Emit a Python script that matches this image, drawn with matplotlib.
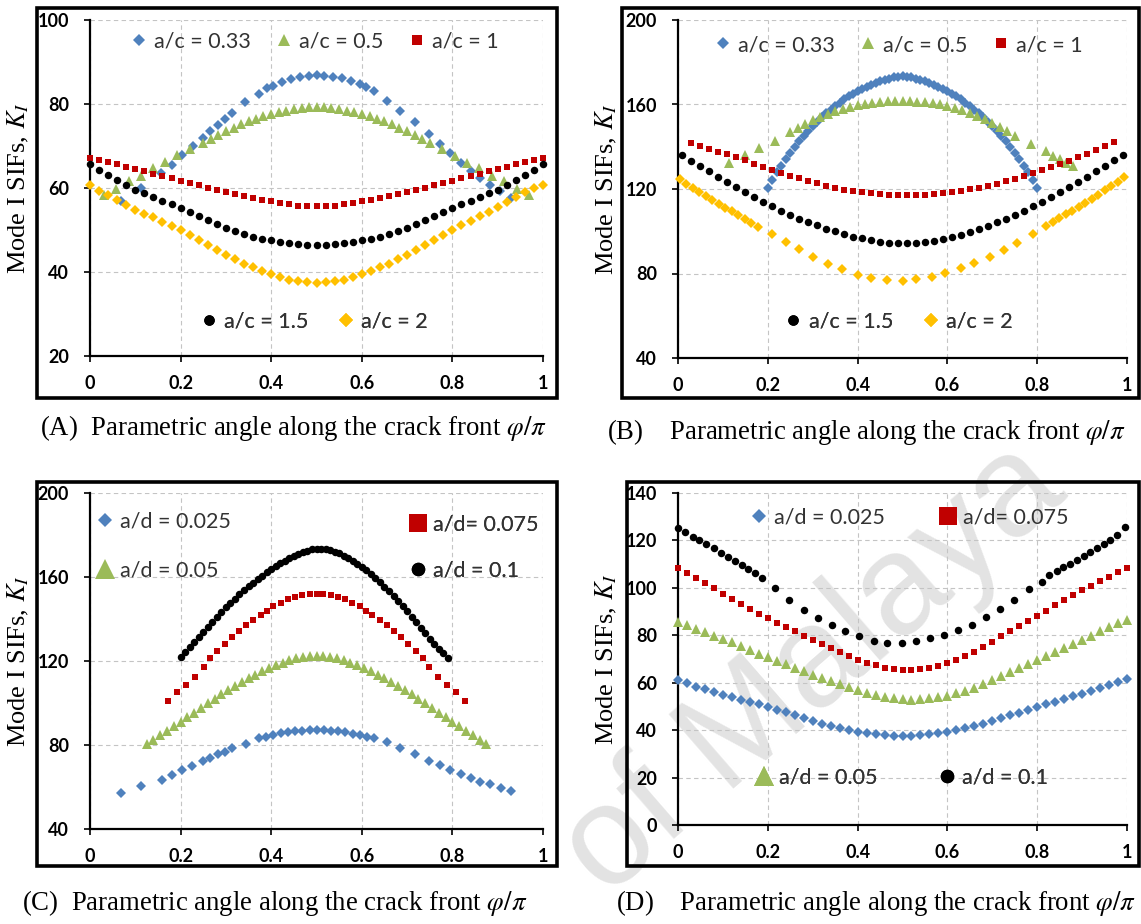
import matplotlib
matplotlib.use("Agg")
import matplotlib.pyplot as plt
from matplotlib.lines import Line2D
from matplotlib.patches import Rectangle

plt.rcParams["mathtext.fontset"] = "stix"

# ---- sample positions along the crack front (phi / pi) ----
phi_02 = [0.00, 0.02, 0.04, 0.06, 0.08, 0.10, 0.12, 0.14, 0.16, 0.18,
          0.20, 0.22, 0.24, 0.26, 0.28, 0.30, 0.32, 0.34, 0.36, 0.38,
          0.40, 0.42, 0.44, 0.46, 0.48, 0.50, 0.52, 0.54, 0.56, 0.58,
          0.60, 0.62, 0.64, 0.66, 0.68, 0.70, 0.72, 0.74, 0.76, 0.78,
          0.80, 0.82, 0.84, 0.86, 0.88, 0.90, 0.92, 0.94, 0.96, 0.98, 1.00]

# ---- (A) a/c series ----
a_033_x = [0.068, 0.112, 0.156, 0.180, 0.204, 0.228, 0.250, 0.266, 0.282, 0.298,
           0.314, 0.343, 0.373, 0.391, 0.405, 0.423, 0.443, 0.463, 0.483, 0.500,
           0.517, 0.537, 0.557, 0.577, 0.595, 0.609, 0.627, 0.655, 0.685, 0.717,
           0.749, 0.773, 0.795, 0.819, 0.842, 0.862, 0.883, 0.906, 0.930]
a_033_y = [56.8, 60.0, 63.6, 65.4, 67.9, 69.9, 72.0, 73.6, 75.0, 76.4,
           77.8, 80.4, 82.3, 83.7, 84.3, 85.2, 86.0, 86.4, 86.7, 86.9,
           86.7, 86.5, 86.1, 85.5, 84.8, 84.0, 83.0, 80.6, 78.3, 75.6,
           72.8, 70.5, 68.3, 66.0, 64.0, 62.4, 60.8, 59.2, 57.6]

a_05_x = [0.030, 0.058, 0.085, 0.112, 0.140, 0.166, 0.193, 0.220,
          0.250, 0.267, 0.283, 0.300, 0.317, 0.333, 0.350, 0.367, 0.383, 0.400,
          0.417, 0.433, 0.450, 0.467, 0.483, 0.500, 0.517, 0.533, 0.550, 0.567,
          0.583, 0.600, 0.617, 0.633, 0.650, 0.667, 0.683, 0.700, 0.717, 0.733, 0.750,
          0.777, 0.805, 0.832, 0.859, 0.887, 0.914, 0.942, 0.968]
a_05_y = [58.3, 59.8, 61.6, 62.9, 64.7, 66.1, 67.8, 69.2,
          70.7, 71.7, 72.7, 73.6, 74.4, 75.2, 75.9, 76.5, 77.1, 77.6,
          78.0, 78.4, 78.8, 79.0, 79.2, 79.3, 79.2, 79.0, 78.8, 78.4,
          78.0, 77.6, 77.1, 76.5, 75.9, 75.2, 74.4, 73.6, 72.7, 71.7, 70.7,
          69.2, 67.6, 66.0, 64.7, 62.9, 61.6, 59.8, 58.4]

a_1_y = [67.2, 66.7, 66.2, 65.6, 65.1, 64.5, 64.0, 63.4, 62.9, 62.3,
         61.7, 61.2, 60.6, 60.1, 59.5, 59.0, 58.5, 58.0, 57.6, 57.2,
         56.8, 56.4, 56.1, 55.8, 55.7, 55.6, 55.7, 55.8, 56.1, 56.4,
         56.8, 57.2, 57.6, 58.0, 58.5, 59.0, 59.5, 60.1, 60.6, 61.2,
         61.7, 62.3, 62.9, 63.4, 64.0, 64.5, 65.1, 65.6, 66.2, 66.7, 67.2]

a_15_y = [65.6, 64.3, 63.1, 61.9, 60.7, 59.6, 58.7, 57.8, 56.9, 56.1,
          55.3, 54.3, 53.4, 52.4, 51.4, 50.5, 49.7, 49.0, 48.4, 47.9,
          47.5, 47.1, 46.8, 46.6, 46.5, 46.4, 46.5, 46.6, 46.8, 47.1,
          47.5, 47.9, 48.4, 49.0, 49.7, 50.5, 51.4, 52.4, 53.4, 54.3,
          55.3, 56.1, 56.9, 57.8, 58.7, 59.6, 60.7, 61.9, 63.1, 64.3, 65.6]

a_2_y = [60.8, 59.3, 58.3, 57.2, 55.9, 54.8, 53.9, 53.0, 52.0, 51.0,
         50.0, 48.9, 47.7, 46.5, 45.2, 44.1, 43.0, 42.0, 41.1, 40.3,
         39.6, 38.8, 38.2, 37.8, 37.5, 37.4, 37.5, 37.8, 38.2, 38.8,
         39.6, 40.3, 41.1, 42.0, 43.0, 44.1, 45.2, 46.5, 47.7, 48.9,
         50.0, 51.1, 52.2, 53.3, 54.4, 55.5, 56.7, 57.8, 59.0, 60.0, 60.8]

# ---- (B) a/c series ----
b_033_x = [0.20, 0.21, 0.22, 0.23, 0.24, 0.25, 0.26, 0.27, 0.28, 0.29,
           0.30, 0.31, 0.32, 0.33, 0.34, 0.35, 0.36, 0.37, 0.38, 0.39,
           0.40, 0.41, 0.42, 0.43, 0.44, 0.45, 0.46, 0.47, 0.48, 0.49,
           0.50, 0.51, 0.52, 0.53, 0.54, 0.55, 0.56, 0.57, 0.58, 0.59,
           0.60, 0.61, 0.62, 0.63, 0.64, 0.65, 0.66, 0.67, 0.68, 0.69,
           0.70, 0.71, 0.72, 0.73, 0.74, 0.75, 0.76, 0.77, 0.78, 0.79, 0.80]
b_033_y = [120.5, 124.3, 127.9, 131.0, 134.1, 137.0, 139.8, 142.5, 145.0, 147.4,
           149.7, 151.9, 153.9, 155.8, 157.6, 159.3, 160.9, 162.4, 163.8, 165.0,
           166.2, 167.3, 168.3, 169.3, 170.2, 171.0, 171.7, 172.3, 172.8, 173.1,
           173.3, 173.1, 172.8, 172.3, 171.7, 171.0, 170.2, 169.3, 168.3, 167.3,
           166.2, 165.0, 163.8, 162.4, 160.9, 159.3, 157.6, 155.8, 153.9, 151.9,
           149.7, 147.4, 145.0, 142.5, 139.8, 137.0, 134.1, 131.0, 127.9, 124.3, 120.5]

b_05_x = [0.113, 0.149, 0.181, 0.216,
          0.250, 0.267, 0.283, 0.300, 0.317, 0.333, 0.350, 0.367, 0.383, 0.400,
          0.417, 0.433, 0.450, 0.467, 0.483, 0.500, 0.517, 0.533, 0.550, 0.567,
          0.583, 0.600, 0.617, 0.633, 0.650, 0.667, 0.683, 0.700, 0.717, 0.733, 0.750,
          0.786, 0.820, 0.835, 0.850, 0.865, 0.880]
b_05_y = [132.1, 136.0, 139.2, 142.6,
          147.0, 149.0, 150.9, 152.6, 154.1, 155.5, 156.7, 157.8, 158.8, 159.7,
          160.3, 160.8, 161.2, 161.5, 161.6, 161.6, 161.5, 161.3, 161.0, 160.6,
          160.0, 159.4, 158.5, 157.3, 156.0, 154.6, 153.0, 151.4, 149.5, 147.5, 145.3,
          141.3, 138.1, 135.7, 134.0, 132.5, 130.9]

b_1_x = [0.03, 0.05, 0.07, 0.09, 0.11, 0.13, 0.15, 0.17, 0.19, 0.21,
         0.23, 0.25, 0.27, 0.29, 0.31, 0.33, 0.35, 0.37, 0.39, 0.41,
         0.43, 0.45, 0.47, 0.49, 0.51, 0.53, 0.55, 0.57, 0.59, 0.61,
         0.63, 0.65, 0.67, 0.69, 0.71, 0.73, 0.75, 0.77, 0.79, 0.81,
         0.83, 0.85, 0.87, 0.89, 0.91, 0.93, 0.95, 0.97]
b_1_y = [141.8, 140.3, 139.0, 137.7, 136.4, 135.0, 133.5, 132.0, 130.5, 129.1,
         127.7, 126.3, 125.0, 123.8, 122.7, 121.6, 120.6, 119.7, 119.0, 118.4,
         117.9, 117.5, 117.2, 117.0, 117.0, 117.1, 117.3, 117.6, 118.0, 118.5,
         119.1, 119.8, 120.6, 121.5, 122.5, 123.6, 124.8, 126.1, 127.4, 128.8,
         130.3, 131.8, 133.4, 135.0, 136.7, 138.5, 140.3, 142.2]

b_15_x = [0.01, 0.03, 0.05, 0.07, 0.09, 0.11, 0.13, 0.15, 0.17, 0.19,
          0.21, 0.23, 0.25, 0.27, 0.29, 0.31, 0.33, 0.35, 0.37, 0.39,
          0.41, 0.43, 0.45, 0.47, 0.49, 0.51, 0.53, 0.55, 0.57, 0.59,
          0.61, 0.63, 0.65, 0.67, 0.69, 0.71, 0.73, 0.75, 0.77, 0.79,
          0.81, 0.83, 0.85, 0.87, 0.89, 0.91, 0.93, 0.95, 0.97, 0.99]
b_15_y = [135.9, 133.3, 130.8, 128.3, 125.8, 123.4, 121.0, 118.6, 116.3, 114.0,
          111.8, 109.7, 107.8, 106.0, 104.3, 102.8, 101.3, 99.9, 98.6, 97.5,
          96.6, 95.8, 95.1, 94.6, 94.4, 94.4, 94.6, 95.0, 95.6, 96.4,
          97.3, 98.4, 99.7, 101.1, 102.6, 104.2, 105.9, 107.7, 109.7, 111.8,
          114.0, 116.3, 118.6, 121.0, 123.4, 125.9, 128.4, 130.9, 133.5, 136.2]

b_2_x = [0.004, 0.018, 0.033, 0.047, 0.062, 0.076, 0.091, 0.105, 0.120, 0.134,
         0.149, 0.163, 0.178,
         0.210, 0.240, 0.270, 0.300, 0.335, 0.365, 0.400, 0.430, 0.465, 0.500,
         0.530, 0.565, 0.595, 0.630, 0.660, 0.695, 0.725, 0.755, 0.790,
         0.820, 0.835, 0.849, 0.864, 0.878, 0.893, 0.907, 0.922, 0.936, 0.951,
         0.965, 0.980, 0.994]
b_2_y = [124.8, 122.6, 120.6, 118.6, 116.7, 114.9, 113.0, 111.2, 109.4, 107.6,
         105.8, 104.0, 102.2,
         98.8, 95.0, 91.4, 88.0, 84.6, 81.9, 79.4, 77.8, 76.8, 76.6,
         77.2, 78.5, 80.3, 82.6, 85.0, 87.9, 90.9, 94.6, 98.8,
         102.6, 104.4, 106.2, 108.0, 109.8, 111.6, 113.4, 115.3, 117.3, 119.3,
         121.4, 123.5, 125.6]

# ---- (C) a/d series ----
c_0025_x = [0.068, 0.112, 0.158, 0.180, 0.204, 0.225, 0.249, 0.266, 0.282, 0.298,
            0.314, 0.345, 0.373, 0.389, 0.405, 0.421, 0.437, 0.453, 0.469, 0.485,
            0.500, 0.516, 0.532, 0.548, 0.564, 0.580, 0.596, 0.612, 0.627, 0.655,
            0.685, 0.717, 0.749, 0.773, 0.795, 0.819, 0.841, 0.861, 0.883, 0.907, 0.930]
c_0025_y = [57.2, 60.4, 63.3, 65.6, 68.0, 70.0, 72.4, 73.6, 75.5, 76.8,
            78.4, 80.4, 83.2, 84.0, 84.8, 85.6, 86.4, 86.8, 86.9, 87.1,
            87.2, 87.0, 86.8, 86.5, 86.0, 85.3, 84.6, 83.8, 83.3, 81.3,
            78.4, 75.7, 72.4, 70.4, 68.0, 66.0, 64.1, 62.5, 61.2, 59.3, 58.1]

c_005_x = [0.125, 0.140, 0.155, 0.170, 0.185, 0.200, 0.215, 0.230, 0.245, 0.260,
           0.275, 0.290, 0.305, 0.320, 0.335, 0.350, 0.365, 0.380, 0.395, 0.410,
           0.425, 0.440, 0.455, 0.470, 0.485, 0.500, 0.515, 0.530, 0.545, 0.560,
           0.575, 0.590, 0.605, 0.620, 0.635, 0.650, 0.665, 0.680, 0.695, 0.710,
           0.725, 0.740, 0.755, 0.770, 0.785, 0.800, 0.815, 0.830, 0.845, 0.860, 0.875]
c_005_y = [80.4, 82.5, 84.7, 86.8, 88.9, 91.0, 93.2, 95.4, 97.6, 99.8,
           102.0, 104.1, 106.1, 108.1, 110.0, 111.8, 113.5, 115.1, 116.6, 118.0,
           119.2, 120.3, 121.2, 121.9, 122.4, 122.6, 122.4, 121.9, 121.2, 120.3,
           119.2, 118.0, 116.6, 115.1, 113.5, 111.8, 110.0, 108.1, 106.1, 104.1,
           102.0, 99.8, 97.6, 95.4, 93.2, 91.0, 88.9, 86.8, 84.7, 82.5, 80.4]

c_0075_x = [0.172, 0.193, 0.211, 0.231, 0.252, 0.264, 0.280, 0.297, 0.314, 0.328,
            0.345, 0.360, 0.377, 0.391, 0.405, 0.421, 0.437, 0.452, 0.469, 0.485,
            0.500,
            0.515, 0.531, 0.548, 0.563, 0.579, 0.595, 0.609, 0.623, 0.640, 0.655,
            0.672, 0.686, 0.703, 0.720, 0.736, 0.748, 0.769, 0.789, 0.807, 0.828]
c_0075_y = [101.1, 105.1, 108.7, 112.4, 117.0, 121.4, 124.6, 128.1, 131.4, 134.1,
            137.3, 139.7, 142.0, 143.9, 146.0, 147.6, 149.5, 150.3, 151.3, 151.9,
            152.0,
            151.9, 151.3, 150.3, 149.5, 147.6, 146.0, 143.9, 142.0, 139.7, 137.3,
            134.1, 131.4, 128.1, 124.6, 121.4, 117.0, 112.4, 108.7, 105.1, 101.1]

c_01_x = [0.20, 0.21, 0.22, 0.23, 0.24, 0.25, 0.26, 0.27, 0.28, 0.29,
          0.30, 0.31, 0.32, 0.33, 0.34, 0.35, 0.36, 0.37, 0.38, 0.39,
          0.40, 0.41, 0.42, 0.43, 0.44, 0.45, 0.46, 0.47, 0.48, 0.49,
          0.50, 0.51, 0.52, 0.53, 0.54, 0.55, 0.56, 0.57, 0.58, 0.59,
          0.60, 0.61, 0.62, 0.63, 0.64, 0.65, 0.66, 0.67, 0.68, 0.69,
          0.70, 0.71, 0.72, 0.73, 0.74, 0.75, 0.76, 0.77, 0.78, 0.79]
c_01_y = [122.0, 124.4, 126.8, 129.2, 131.6, 134.0, 136.4, 138.7, 141.0, 143.3,
          145.5, 147.6, 149.7, 151.7, 153.6, 155.5, 157.3, 159.0, 160.7, 162.4,
          164.0, 165.3, 166.6, 167.8, 168.9, 170.0, 171.0, 171.9, 172.6, 173.1,
          173.3, 173.3, 173.1, 172.7, 172.0, 171.2, 170.2, 169.1, 167.8, 166.4,
          164.8, 163.1, 161.3, 159.4, 157.4, 155.3, 153.1, 150.8, 148.5, 146.1,
          143.6, 141.1, 138.5, 135.9, 133.2, 130.6, 128.1, 125.8, 123.6, 121.6]

# ---- (D) a/d series ----
d_0025_y = [61.0, 59.7, 58.4, 57.2, 56.0, 54.9, 53.9, 52.9, 51.9, 50.9,
            49.9, 48.7, 47.5, 46.3, 45.0, 43.8, 42.7, 41.7, 40.8, 40.1,
            39.4, 38.8, 38.3, 37.9, 37.6, 37.5, 37.6, 37.9, 38.3, 38.8,
            39.4, 40.1, 40.9, 41.8, 42.8, 43.9, 45.0, 46.2, 47.4, 48.6,
            49.8, 50.9, 52.0, 53.1, 54.2, 55.3, 56.5, 57.7, 58.9, 60.2, 61.4]

d_005_y = [85.6, 84.2, 82.8, 81.4, 79.9, 78.5, 77.0, 75.4, 73.9, 72.3,
           70.8, 69.3, 67.8, 66.3, 64.8, 63.4, 62.0, 60.6, 59.3, 58.0,
           56.8, 55.7, 54.8, 54.0, 53.4, 53.0, 52.9, 53.1, 53.5, 54.0,
           54.6, 55.5, 56.6, 57.9, 59.4, 61.0, 62.7, 64.4, 66.1, 67.8,
           69.5, 71.2, 73.0, 74.7, 76.5, 78.2, 79.9, 81.6, 83.3, 85.0, 86.6]

d_0075_y = [108.4, 106.3, 104.2, 102.0, 99.8, 97.6, 95.3, 93.0, 91.0, 89.1,
            87.2, 85.3, 83.5, 81.6, 79.8, 78.0, 76.2, 74.5, 72.8, 71.2,
            69.7, 68.4, 67.3, 66.3, 65.7, 65.4, 65.3, 65.6, 66.2, 67.1,
            68.3, 69.7, 71.3, 73.1, 75.1, 77.3, 79.5, 81.7, 83.8, 85.9,
            88.0, 90.3, 92.6, 94.9, 97.0, 99.0, 100.9, 102.7, 104.6, 106.5, 108.4]

d_01_x = [0.000, 0.016, 0.033, 0.047, 0.062, 0.080, 0.096, 0.111, 0.126, 0.143,
          0.157, 0.172, 0.186,
          0.215, 0.248, 0.280, 0.311, 0.343, 0.372, 0.404, 0.436, 0.466,
          0.499, 0.531, 0.562, 0.593, 0.624, 0.655, 0.687, 0.718, 0.749, 0.781,
          0.811, 0.826, 0.843, 0.857, 0.872, 0.889, 0.904, 0.918, 0.933, 0.948,
          0.963, 0.978, 0.995]
d_01_y = [125.2, 123.4, 121.6, 120.0, 118.4, 116.6, 114.8, 113.1, 111.4, 109.6,
          107.9, 106.2, 104.0,
          99.9, 95.0, 90.8, 87.3, 84.5, 81.7, 79.6, 77.7, 76.7,
          76.7, 77.7, 78.8, 80.2, 82.3, 84.5, 87.6, 91.2, 95.0, 99.6,
          102.3, 105.3, 107.0, 108.7, 110.1, 111.9, 113.3, 115.0, 116.8, 118.5,
          120.3, 122.4, 125.5]

x_ticks = [0, 0.2, 0.4, 0.6, 0.8, 1]
x_ticklabels = ["0", "0.2", "0.4", "0.6", "0.8", "1"]

BLUE = "#4F81BD"
GREEN = "#9BBB59"
RED = "#C00000"
GOLD = "#FFC000"
BLACK = "#000000"

DIAMOND = dict(marker="D", ms=4.8, color=BLUE, mew=0)
TRIANGLE = dict(marker="^", ms=7.8, color=GREEN, mew=0)
SQUARE = dict(marker="s", ms=5.0, color=RED, mew=0)
CIRCLE = dict(marker="o", ms=5.4, color=BLACK, mew=0)
GOLD_DIAMOND = dict(marker="D", ms=4.8, color=GOLD, mew=0)

W, H = 1141, 924
fig = plt.figure(figsize=(W / 100, H / 100), dpi=100)

tick_font = dict(family="Lato", weight="bold", size=13)
legend_font = dict(family="Lato", size=15.5)
serif = "Liberation Serif"

# faint repository stamp running diagonally under the lower panels
fig.text(606 / W, 1 - 899 / H, "of Malaya", family="Liberation Sans",
         fontsize=102, color="#e3e3e3", rotation=41, rotation_mode="anchor",
         ha="left", va="baseline", zorder=-1)


def px_box(x0, y0, x1, y1):
    # pixel box (top-left origin) -> figure fraction rect
    return [x0 / W, 1 - y1 / H, (x1 - x0) / W, (y1 - y0) / H]


def make_axes(box, ylim, yticks):
    ax = fig.add_axes(px_box(*box))
    ax.patch.set_alpha(0)
    ax.set_xlim(0, 1)
    ax.set_ylim(*ylim)
    ax.set_xticks(x_ticks)
    ax.set_xticklabels(x_ticklabels, fontdict=tick_font)
    ax.set_yticks(yticks)
    ax.set_yticklabels([str(t) for t in yticks], fontdict=tick_font)
    for side in ("top", "right"):
        ax.spines[side].set_visible(False)
    for side in ("left", "bottom"):
        ax.spines[side].set_linewidth(1.6)
    ax.grid(True, ls=(0, (4, 3)), color="#c4c4c4", lw=0.8)
    ax.set_axisbelow(True)
    ax.tick_params(axis="x", direction="out", length=4, width=1.2, pad=10)
    ax.tick_params(axis="y", direction="out", length=4, width=1.2, pad=11)
    ax.set_ylabel(r"Mode I SIFs, $K_I$", family=serif, fontsize=19, labelpad=5)
    return ax


def scatter(ax, x, y, style):
    ax.plot(x, y, ls="none", clip_on=False, zorder=3, **style)


def handle(style, label, scale=1.0):
    s = dict(style)
    s["ms"] = s["ms"] * scale
    return Line2D([], [], ls="none", label=label, **s)


def legend(ax, handles, anchor, loc, ncol=1, colsp=1.1, labelsp=0.5):
    lg = ax.legend(handles=handles, loc=loc, bbox_to_anchor=anchor, ncol=ncol,
                   frameon=False, prop=legend_font, handlelength=0.9,
                   handletextpad=0.25, columnspacing=colsp, labelspacing=labelsp,
                   borderaxespad=0, borderpad=0)
    for t in lg.get_texts():
        t.set_color("#333333")
    ax.add_artist(lg)
    return lg


# ---------------- (A) ----------------
ax = make_axes((90, 20, 543, 356), (20, 100), [20, 40, 60, 80, 100])
scatter(ax, a_033_x, a_033_y, DIAMOND)
scatter(ax, a_05_x, a_05_y, TRIANGLE)
scatter(ax, phi_02, a_1_y, SQUARE)
scatter(ax, phi_02, a_15_y, CIRCLE)
scatter(ax, phi_02, a_2_y, GOLD_DIAMOND)
legend(ax, [handle(DIAMOND, "a/c = 0.33", 1.3), handle(TRIANGLE, "a/c = 0.5", 1.1),
            handle(SQUARE, "a/c = 1", 1.4)], (0.494, 0.935), "center", ncol=3)
legend(ax, [handle(CIRCLE, "a/c = 1.5", 1.4), handle(GOLD_DIAMOND, "a/c = 2", 1.5)],
       (0.493, 0.104), "center", ncol=2, colsp=1.3)

# ---------------- (B) ----------------
ax = make_axes((678, 20, 1127, 358), (40, 200), [40, 80, 120, 160, 200])
scatter(ax, b_033_x, b_033_y, DIAMOND)
scatter(ax, b_05_x, b_05_y, TRIANGLE)
scatter(ax, b_1_x, b_1_y, SQUARE)
scatter(ax, b_15_x, b_15_y, CIRCLE)
scatter(ax, b_2_x, b_2_y, GOLD_DIAMOND)
legend(ax, [handle(DIAMOND, "a/c = 0.33", 1.3), handle(TRIANGLE, "a/c = 0.5", 1.1),
            handle(SQUARE, "a/c = 1", 1.4)], (0.49, 0.926), "center", ncol=3)
legend(ax, [handle(CIRCLE, "a/c = 1.5", 1.4), handle(GOLD_DIAMOND, "a/c = 2", 1.5)],
       (0.49, 0.107), "center", ncol=2, colsp=1.3)

# ---------------- (C) ----------------
ax = make_axes((90, 493, 543, 829), (40, 200), [40, 80, 120, 160, 200])
scatter(ax, c_0025_x, c_0025_y, DIAMOND)
scatter(ax, c_005_x, c_005_y, TRIANGLE)
scatter(ax, c_0075_x, c_0075_y, SQUARE)
scatter(ax, c_01_x, c_01_y, CIRCLE)
legend(ax, [handle(DIAMOND, "a/d = 0.025", 1.4), handle(TRIANGLE, "a/d = 0.05", 1.8)],
       (0.012, 0.842), "center left", labelsp=1.35)
legend(ax, [handle(SQUARE, "a/d= 0.075", 2.5), handle(CIRCLE, "a/d = 0.1", 1.8)],
       (0.99, 0.838), "center right", labelsp=1.2)

# ---------------- (D) ----------------
ax = make_axes((678, 493, 1127, 825), (0, 140), [0, 20, 40, 60, 80, 100, 120, 140])
scatter(ax, phi_02, d_0025_y, DIAMOND)
scatter(ax, phi_02, d_005_y, TRIANGLE)
scatter(ax, phi_02, d_0075_y, SQUARE)
scatter(ax, d_01_x, d_01_y, CIRCLE)
legend(ax, [handle(DIAMOND, "a/d = 0.025", 1.4), handle(SQUARE, "a/d= 0.075", 2.5)],
       (0.514, 0.925), "center", ncol=2, colsp=2.5)
legend(ax, [handle(TRIANGLE, "a/d = 0.05", 1.8), handle(CIRCLE, "a/d = 0.1", 1.8)],
       (0.497, 0.142), "center", ncol=2, colsp=2.8)

# panel frames
for box in [(37, 8, 557, 398), (622, 8, 1139, 398), (37, 482, 557, 866), (627, 482, 1139, 866)]:
    r = px_box(*box)
    fig.add_artist(Rectangle(r[:2], r[2], r[3], transform=fig.transFigure,
                             fill=False, lw=2.6, ec="black"))

# captions
captions = [
    (40, 428, "(A)  Parametric angle along the crack front $\\varphi/\\pi$"),
    (607, 432, "(B)    Parametric angle along the crack front $\\varphi/\\pi$"),
    (22, 903, "(C)  Parametric angle along the crack front $\\varphi/\\pi$"),
    (616, 903, "(D)    Parametric angle along the crack front $\\varphi/\\pi$"),
]
for x, y, text in captions:
    fig.text(x / W, 1 - y / H, text, family=serif, fontsize=19.3, ha="left", va="center")

fig.savefig("out.png", dpi=100)
